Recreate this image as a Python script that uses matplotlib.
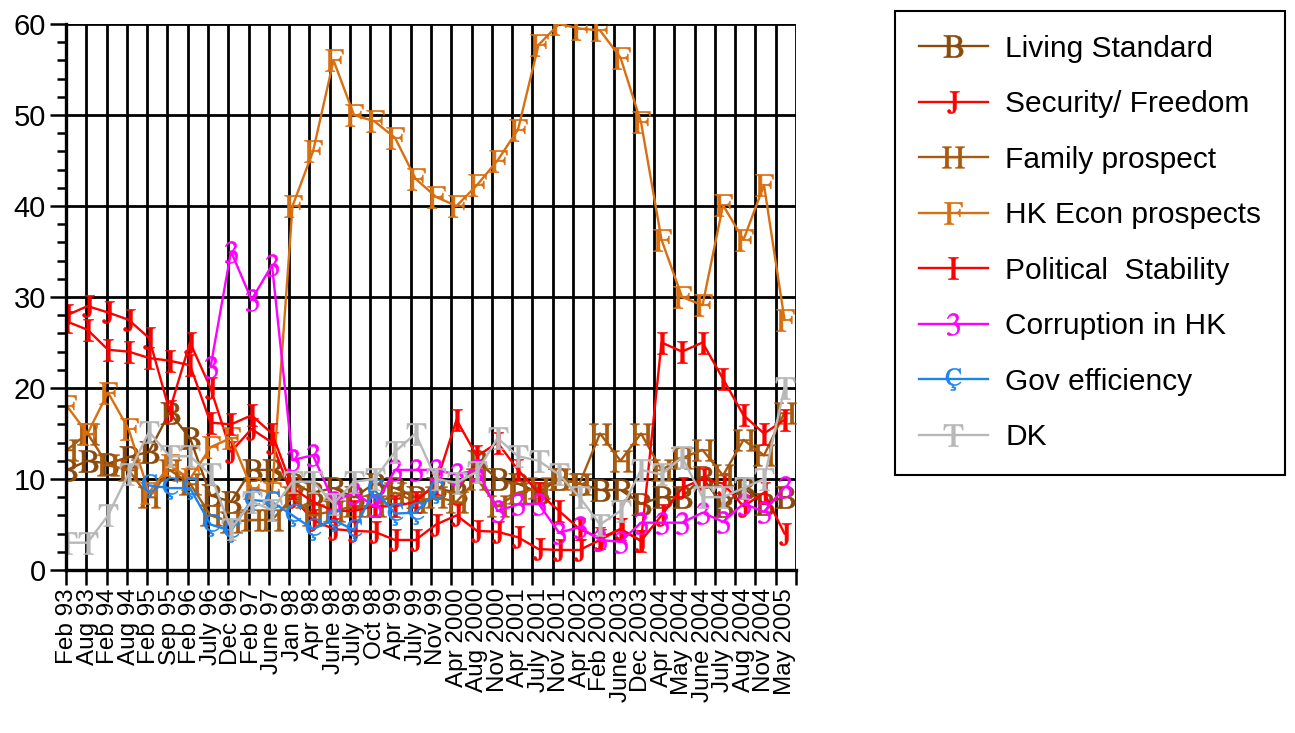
import numpy as np
import matplotlib
matplotlib.use('Agg')
import matplotlib.pyplot as plt
from matplotlib.ticker import MultipleLocator

plt.rcParams['font.family'] = ['Liberation Sans', 'DejaVu Sans']
plt.rcParams['mathtext.fontset'] = 'stix'

nan = np.nan

# Dates des sondages
labels = ['Feb 93', 'Aug 93', 'Feb 94', 'Aug 94', 'Feb 95', 'Sep 95', 'Feb 96', 'July 96',
          'Dec 96', 'Feb 97', 'June 97', 'Jan 98', 'Apr 98', 'June 98', 'July 98', 'Oct 98',
          'Apr 99', 'July 99', 'Nov 99', 'Apr 2000', 'Aug 2000', 'Nov 2000', 'Apr 2001',
          'July 2001', 'Nov 2001', 'Apr 2002', 'Feb 2003', 'June 2003', 'Dec 2003', 'Apr 2004',
          'May 2004', 'June 2004', 'July 2004', 'Aug 2004', 'Nov 2004', 'May 2005']

living = [11, 12, 11.7, 12.4, 13, 17.3, 14.5, 8.2, 7.5, 11, 11, 9.5, 8.5, 9, 8, 9.5, 9, 8,
          9, 8.5, 12, 10, 9.5, 8.5, 10, 9.5, 8.8, 8.8, 7.3, 8, 8, 10.2, 7, 9, 7.3, 8]
security = [28, 29, 28.3, 27.5, 25.5, 17.5, 25, 20, 13, 15.5, 14, 8, 5.5, 4.5, 4.3, 4.2, 3.3, 3.3,
            5, 6, 4.3, 4.2, 3.6, 2.3, 2.2, 2.2, 3.3, 4.5, 3.2, 6, 9, 10, 9.5, 7, 8.5, 4]
family = [13.2, 15, 11.5, 11, 8, 11, 9.5, 6, 5.3, 5.5, 5.5, 8, 6, 6.5, 7, 7, 8.5, 7.5,
          8, 7.5, 10, 7, 8.5, 9, 10, 9.5, 15, 12, 15, 11, 12.3, 13.2, 10.4, 14.3, 12.6, 17.3]
econ = [18, 15, 19.5, 15.5, 8.5, 11.5, 10, 13.5, 14.5, 9, 8.5, 40, 46, 56, 50, 49.3, 47.5, 43,
        41, 40, 42.3, 45, 48.4, 57.7, 60, 59.5, 59.3, 56.3, 49.2, 36.3, 30, 29.1, 40.1, 36.3, 42.3, 27.5]
political = [27.3, 26.4, 24.2, 24, 23.3, 23, 22.5, 16.2, 16, 17, 15, 9, 7.5, 6.5, 6.5, 7, 7, 7.5,
             9.5, 16.5, 12.5, 14, 11, 8.5, 6.5, 4.5, 3.5, 4.5, 3.2, 25, 24, 25, 21, 17, 15, 16.5]
corruption = [nan, nan, nan, nan, nan, nan, nan, 22.3, 35, 29.7, 33.5, 12.1, 12.6, 7.5, 8.5, 7,
              11, 11, 11, 10.5, 11, 6.5, 7.2, 7.3, 4.1, 4.7, 3.3, 3.1, 5.2, 5.2, 5.2, 6.3, 5.3, 7.3, 6.4, 9.1]
gov = [nan, nan, nan, nan, 9.3, 9, 9, 5, 4.3, 7.7, 7.5, 6, 4.5, 5.5, 4.4, 8.8, 6.2, 6.3,
       8.6, nan, nan, nan, nan, nan, nan, nan, nan, nan, nan, nan, nan, nan, nan, nan, nan, nan]
dk = [3, 3, 6, 10.6, 15.2, 12.5, 12.5, 10.5, 4.5, 7.5, 6.6, 9.7, 9.7, 7.3, 9.7, 10, 13, 15,
      10, 9.6, 10.8, 14.5, 12.5, 12, 10.5, 8, 5, 6.5, 11, 10.5, 12.4, 8, 8, 9, 10, 20]

series = [
    ('Living Standard', living, '#8a4a0c', 'B'),
    ('Security/ Freedom', security, '#ff0000', 'J'),
    ('Family prospect', family, '#a85a10', 'H'),
    ('HK Econ prospects', econ, '#d86f10', 'F'),
    ('Political  Stability', political, '#ff0000', 'I'),
    ('Corruption in HK', corruption, '#ff00ff', '3'),
    ('Gov efficiency', gov, '#1a84f0', 'Ç'),
    ('DK', dk, '#b8b8b8', 'T'),
]

fig = plt.figure(figsize=(12.95, 7.33), dpi=100)
ax = fig.add_axes([66 / 1295, 1 - 570 / 733, (796 - 66) / 1295, (570 - 24) / 733])

x = np.arange(len(labels))
xmin, xmax = -0.05, 35.56

# grille
bords = np.linspace(xmin, xmax, 37)
ax.set_xticks(bords)
ax.set_xticklabels([])
ax.set_xticks(x, minor=True)
ax.set_xticklabels(labels, minor=True, rotation=90, fontsize=17.5)
ax.tick_params(axis='x', which='major', length=11, width=1.8, direction='out')
ax.tick_params(axis='x', which='minor', length=0, pad=13)
ax.xaxis.grid(True, which='major', color='black', linewidth=2.0)

ax.set_ylim(0, 60)
ax.set_yticks(range(0, 61, 10))
ax.yaxis.set_minor_locator(MultipleLocator(2))
ax.tick_params(axis='y', which='major', length=11.5, width=1.8, labelsize=21, pad=3)
ax.tick_params(axis='y', which='minor', length=6.5, width=1.8)
ax.yaxis.grid(True, which='major', color='black', linewidth=2.0)
ax.set_axisbelow(True)
ax.set_xlim(xmin, xmax)

for s in ['top', 'right']:
    ax.spines[s].set_visible(False)
for s in ['left', 'bottom']:
    ax.spines[s].set_linewidth(2.4)

for nom, valeurs, couleur, lettre in series:
    ax.plot(x, valeurs, color=couleur, linewidth=1.7, marker=r'$\mathrm{%s}$' % lettre,
            markersize=16, markeredgewidth=0.4, label=nom)

leg = fig.legend(loc='upper left', bbox_to_anchor=(895 / 1295, 1 - 11 / 733), fontsize=21.5,
                 fancybox=False, edgecolor='black', framealpha=1, borderpad=0.8,
                 labelspacing=0.92, handlelength=2.3, handletextpad=0.6, borderaxespad=0)
leg.get_frame().set_linewidth(1.5)

fig.savefig('out.png', dpi=100)
